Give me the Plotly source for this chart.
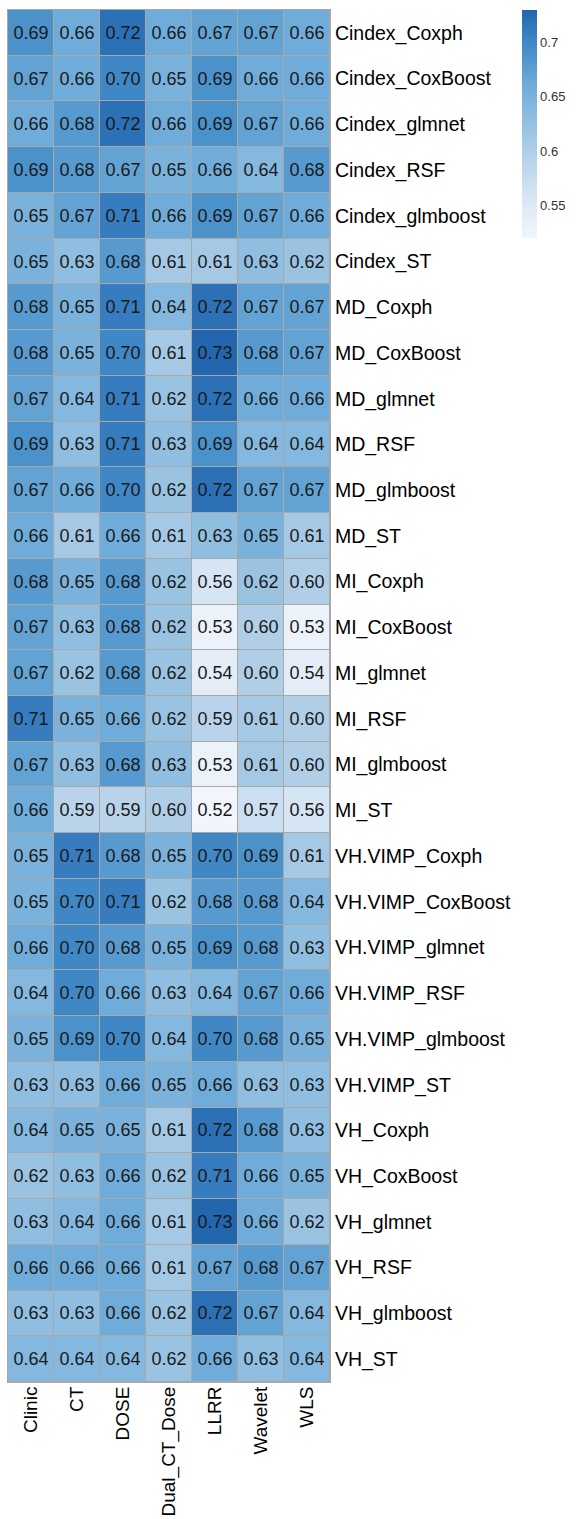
import plotly.graph_objects as go

columns = ["Clinic", "CT", "DOSE", "Dual_CT_Dose", "LLRR", "Wavelet", "WLS"]
rows = ["Cindex_Coxph", "Cindex_CoxBoost", "Cindex_glmnet", "Cindex_RSF", "Cindex_glmboost", "Cindex_ST",
        "MD_Coxph", "MD_CoxBoost", "MD_glmnet", "MD_RSF", "MD_glmboost", "MD_ST",
        "MI_Coxph", "MI_CoxBoost", "MI_glmnet", "MI_RSF", "MI_glmboost", "MI_ST",
        "VH.VIMP_Coxph", "VH.VIMP_CoxBoost", "VH.VIMP_glmnet", "VH.VIMP_RSF", "VH.VIMP_glmboost", "VH.VIMP_ST",
        "VH_Coxph", "VH_CoxBoost", "VH_glmnet", "VH_RSF", "VH_glmboost", "VH_ST"]

values = [
    [0.69, 0.66, 0.72, 0.66, 0.67, 0.67, 0.66],
    [0.67, 0.66, 0.70, 0.65, 0.69, 0.66, 0.66],
    [0.66, 0.68, 0.72, 0.66, 0.69, 0.67, 0.66],
    [0.69, 0.68, 0.67, 0.65, 0.66, 0.64, 0.68],
    [0.65, 0.67, 0.71, 0.66, 0.69, 0.67, 0.66],
    [0.65, 0.63, 0.68, 0.61, 0.61, 0.63, 0.62],
    [0.68, 0.65, 0.71, 0.64, 0.72, 0.67, 0.67],
    [0.68, 0.65, 0.70, 0.61, 0.73, 0.68, 0.67],
    [0.67, 0.64, 0.71, 0.62, 0.72, 0.66, 0.66],
    [0.69, 0.63, 0.71, 0.63, 0.69, 0.64, 0.64],
    [0.67, 0.66, 0.70, 0.62, 0.72, 0.67, 0.67],
    [0.66, 0.61, 0.66, 0.61, 0.63, 0.65, 0.61],
    [0.68, 0.65, 0.68, 0.62, 0.56, 0.62, 0.60],
    [0.67, 0.63, 0.68, 0.62, 0.53, 0.60, 0.53],
    [0.67, 0.62, 0.68, 0.62, 0.54, 0.60, 0.54],
    [0.71, 0.65, 0.66, 0.62, 0.59, 0.61, 0.60],
    [0.67, 0.63, 0.68, 0.63, 0.53, 0.61, 0.60],
    [0.66, 0.59, 0.59, 0.60, 0.52, 0.57, 0.56],
    [0.65, 0.71, 0.68, 0.65, 0.70, 0.69, 0.61],
    [0.65, 0.70, 0.71, 0.62, 0.68, 0.68, 0.64],
    [0.66, 0.70, 0.68, 0.65, 0.69, 0.68, 0.63],
    [0.64, 0.70, 0.66, 0.63, 0.64, 0.67, 0.66],
    [0.65, 0.69, 0.70, 0.64, 0.70, 0.68, 0.65],
    [0.63, 0.63, 0.66, 0.65, 0.66, 0.63, 0.63],
    [0.64, 0.65, 0.65, 0.61, 0.72, 0.68, 0.63],
    [0.62, 0.63, 0.66, 0.62, 0.71, 0.66, 0.65],
    [0.63, 0.64, 0.66, 0.61, 0.73, 0.66, 0.62],
    [0.66, 0.66, 0.66, 0.61, 0.67, 0.68, 0.67],
    [0.63, 0.63, 0.66, 0.62, 0.72, 0.67, 0.64],
    [0.64, 0.64, 0.64, 0.62, 0.66, 0.63, 0.64],
]

cbar_ticks = [0.55, 0.6, 0.65, 0.7]
cbar_labels = ["0.55", "0.6", "0.65", "0.7"]

colorscale = [
    [0.0, "#f2f6fc"],
    [0.19, "#d6e5f3"],
    [0.38, "#b0cfe7"],
    [0.67, "#6eacd9"],
    [0.86, "#3f87c5"],
    [1.0, "#2266ae"],
]

FONT = "Liberation Sans, Arial, sans-serif"

fig = go.Figure(go.Heatmap(
    z=values, x=columns, y=rows,
    zmin=0.52, zmax=0.73,
    colorscale=colorscale,
    xgap=1, ygap=1,
    texttemplate="%{z:.2f}",
    textfont=dict(family=FONT, size=18, color="#1a1a1a"),
    colorbar=dict(
        x=(522 - 8) / 322, xanchor="left", xpad=0,
        y=1, yanchor="top", ypad=0,
        thickness=15, len=228, lenmode="pixels",
        outlinewidth=0,
        tickvals=cbar_ticks, ticktext=cbar_labels,
        ticks="", tickfont=dict(family=FONT, size=13, color="#333333"),
    ),
))

fig.update_layout(
    width=576, height=1519,
    margin=dict(l=8, r=246, t=10, b=137, autoexpand=False),
    paper_bgcolor="white",
    plot_bgcolor="#a8a8a8",
    font=dict(family=FONT, color="#000000"),
)
fig.update_xaxes(
    side="bottom", tickangle=-90, ticks="", ticklabelstandoff=-4,
    tickfont=dict(family=FONT, size=19, color="#000000"),
    showline=True, linecolor="#a8a8a8", linewidth=1, mirror=True,
    showgrid=False, zeroline=False,
)
fig.update_yaxes(
    side="right", autorange="reversed", ticks="", ticklabelstandoff=0,
    tickfont=dict(family=FONT, size=19.5, color="#000000"),
    showline=True, linecolor="#a8a8a8", linewidth=1, mirror=True,
    showgrid=False, zeroline=False,
)

fig.write_html(
    "out.html",
    config={"displayModeBar": False},
    post_script="document.body.style.margin='0';document.body.style.overflow='hidden';",
)
